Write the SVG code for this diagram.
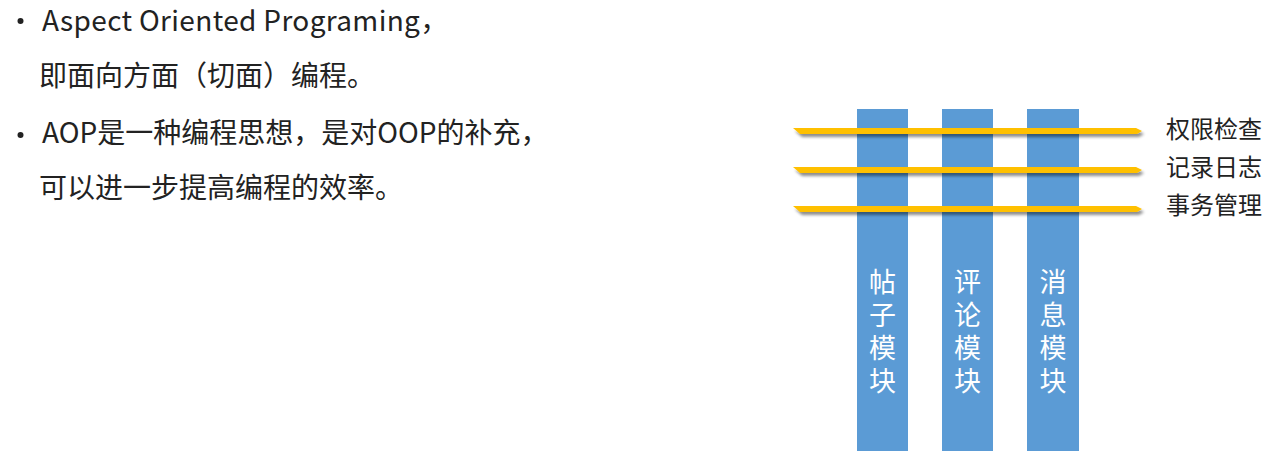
<svg xmlns="http://www.w3.org/2000/svg" width="1283" height="469" viewBox="0 0 1283 469">
<style>
.t{font-family:"Noto Sans CJK SC","Noto Sans",sans-serif;font-size:28px;fill:#222222;dominant-baseline:central}
.r{font-family:"Noto Sans CJK SC","Noto Sans",sans-serif;font-size:24px;fill:#222222;dominant-baseline:central}
.c{font-family:"Noto Sans CJK SC",sans-serif;font-size:27px;fill:#ffffff;writing-mode:vertical-rl;letter-spacing:6px}
.col{fill:#5b9bd5}
.bar{fill:#ffc000}
</style>
<defs>
<filter id="sh" x="-5%" y="-200%" width="110%" height="500%">
<feGaussianBlur in="SourceAlpha" stdDeviation="1.5"/>
<feOffset dx="2" dy="2.5" result="b"/>
<feComponentTransfer><feFuncA type="linear" slope="0.45"/></feComponentTransfer>
<feMerge><feMergeNode/><feMergeNode in="SourceGraphic"/></feMerge>
</filter>
</defs>
<g id="text">
<circle cx="20.5" cy="21" r="3" fill="#222222"/>
<text class="t" x="42" y="19" letter-spacing="0.35">Aspect Oriented Programing，</text>
<text class="t" x="39" y="74">即面向方面（切面）编程。</text>
<circle cx="20.5" cy="135" r="3" fill="#222222"/>
<text class="t" x="42" y="131">AOP是一种编程思想，是对OOP的补充，</text>
<text class="t" x="39" y="186">可以进一步提高编程的效率。</text>
</g>
<g id="col1"><rect class="col" x="857" y="109" width="51" height="342"/>
<text class="c" x="882.5" y="268.5">帖子模块</text></g>
<g id="col2"><rect class="col" x="942" y="109" width="51" height="342"/>
<text class="c" x="967.5" y="268.5">评论模块</text></g>
<g id="col3"><rect class="col" x="1027" y="109" width="52" height="342"/>
<text class="c" x="1053" y="268.5">消息模块</text></g>
<g id="aspects">
<polygon class="bar" filter="url(#sh)" points="793,128 1136,128 1142,131 1137,134 800,134"/>
<polygon class="bar" filter="url(#sh)" points="793,167 1136,167 1142,170 1137,173 800,173"/>
<polygon class="bar" filter="url(#sh)" points="793,206 1136,206 1142,209 1137,212 800,212"/>
</g>
<g id="labels">
<text class="r" x="1166" y="127">权限检查</text>
<text class="r" x="1166" y="165">记录日志</text>
<text class="r" x="1166" y="203">事务管理</text>
</g>
</svg>
